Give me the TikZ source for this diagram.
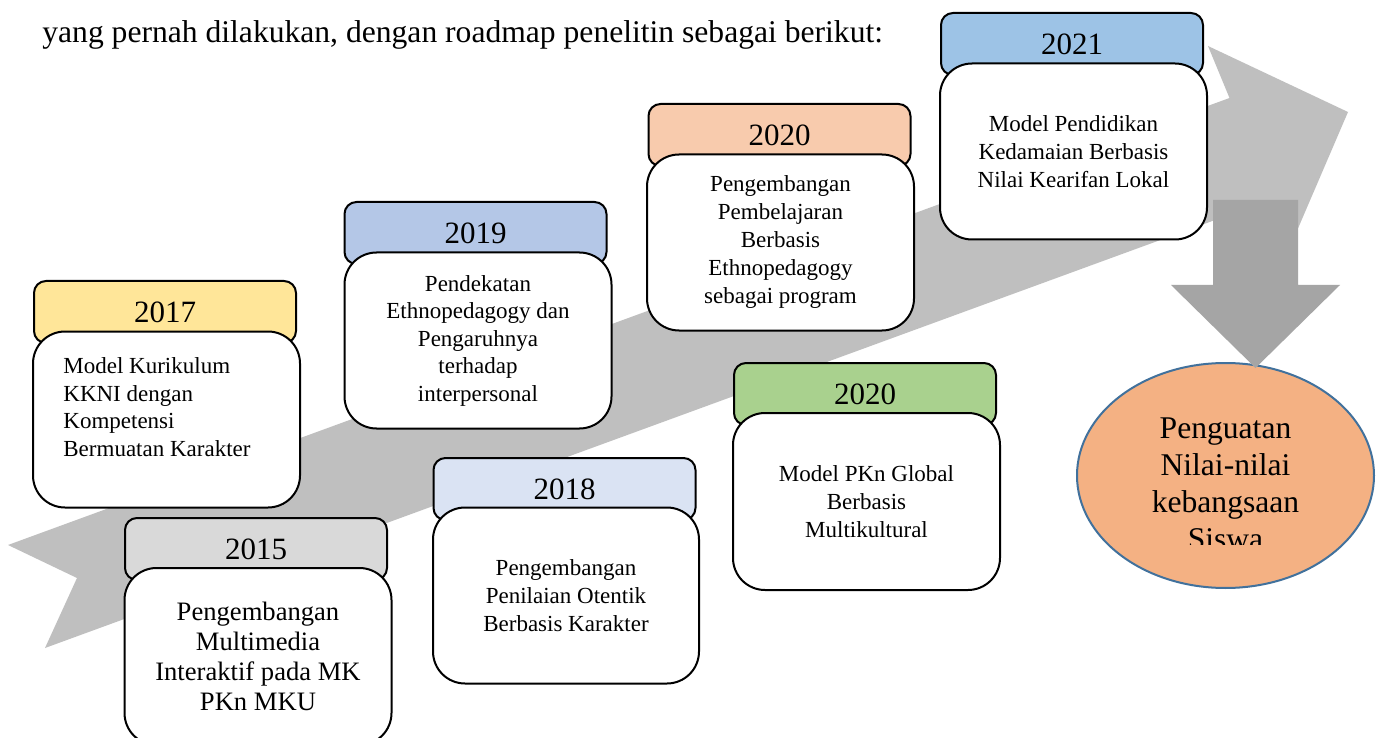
\documentclass[tikz,border=0pt]{standalone}
\usepackage{fontspec}
\setmainfont{Liberation Serif}
\usetikzlibrary{shapes.geometric}
\definecolor{arrowlight}{HTML}{BFBFBF}
\definecolor{arrowdark}{HTML}{A5A5A5}
\definecolor{cYa}{HTML}{9DC3E6}
\definecolor{cYb}{HTML}{F8CBAD}
\definecolor{cYc}{HTML}{B4C7E7}
\definecolor{cYd}{HTML}{FFE699}
\definecolor{cYe}{HTML}{D9D9D9}
\definecolor{cYf}{HTML}{DAE3F3}
\definecolor{cYg}{HTML}{A9D18E}
\definecolor{goalfill}{HTML}{F4B183}
\definecolor{goalline}{HTML}{41719C}
\begin{document}
\begin{tikzpicture}[x=0.5pt,y=-0.5pt,
  hdr/.style={draw=black, line width=1pt, rounded corners=6pt, minimum width=131pt,
    minimum height=31pt, inner sep=0pt, font=\fontsize{15.5}{18}\selectfont},
  bodybox/.style={draw=black, fill=white, line width=1pt, rounded corners=16pt,
    minimum width=133.5pt, minimum height=88pt, inner sep=0pt, align=center,
    font=\fontsize{11.5}{14}\selectfont},
  goalstyle/.style={ellipse, draw=goalline, line width=1pt, fill=goalfill,
    minimum width=148.5pt, minimum height=112.5pt, inner sep=0pt}]
\useasboundingbox (0,0) rectangle (1378,738);
\fill[white] (0,0) rectangle (1378,738);

% intro text
\node[anchor=base west, inner sep=0pt, font=\fontsize{15.8}{19}\selectfont] (intro) at (42,43)
  {yang pernah dilakukan, dengan roadmap penelitin sebagai berikut:};

% big light grey arrow
\fill[arrowlight] (8,545) -- (1229.5,98) -- (1208,46) -- (1348,112) -- (1287,254)
  -- (1267,201) -- (45,648) -- (77,578) -- cycle;

\begin{scope}
\clip (0,0) rectangle (1378,738);
% 2021
\node[hdr, fill=cYa] (h2021) at (1072,44) {2021};
\node[bodybox] (b2021) at (1073.5,151.5) {Model Pendidikan\\Kedamaian Berbasis\\Nilai Kearifan Lokal};
% 2020 orange
\node[hdr, fill=cYb] (h2020a) at (779.5,135) {2020};
\node[bodybox] (b2020a) at (780.5,242.5) {Pengembangan\\Pembelajaran\\Berbasis\\Ethnopedagogy\\sebagai program};
% 2019
\node[hdr, fill=cYc] (h2019) at (475.5,233) {2019};
\node[bodybox, font=\fontsize{11.5}{13.75}\selectfont] (b2019) at (478,340.5) {Pendekatan\\Ethnopedagogy dan\\Pengaruhnya\\terhadap\\interpersonal};
% 2017
\node[hdr, fill=cYd] (h2017) at (165,312) {2017};
\node[bodybox] (b2017) at (166.5,419.5) {};
\node[anchor=west, inner sep=0pt, align=left, font=\fontsize{11.5}{13.85}\selectfont] (t2017) at (63,407)
  {Model Kurikulum\\KKNI dengan\\Kompetensi\\Bermuatan Karakter};
% 2015
\node[hdr, fill=cYe] (h2015) at (256,549) {2015};
\node[bodybox, minimum height=88.5pt, font=\fontsize{13.3}{15}\selectfont] (b2015) at (258,656.5)
  {Pengembangan\\Multimedia\\Interaktif pada MK\\PKn MKU};
% 2018
\node[hdr, fill=cYf] (h2018) at (564.5,489) {2018};
\node[bodybox, minimum width=133pt] (b2018) at (566,595.5) {Pengembangan\\Penilaian Otentik\\Berbasis Karakter};
% 2020 green
\node[hdr, fill=cYg] (h2020b) at (865,394) {2020};
\node[bodybox, minimum height=88.5pt] (b2020b) at (866.5,501.5) {Model PKn Global\\Berbasis\\Multikultural};
\end{scope}

% goal ellipse
\node[goalstyle] (goal) at (1225.5,475.5) {};
\begin{scope}
\clip (1070,360) rectangle (1380,544);
\node[align=center, inner sep=0pt, font=\fontsize{15.8}{18.4}\selectfont] (goaltext) at (1225.5,484)
  {Penguatan\\Nilai-nilai\\kebangsaan\\Siswa};
\end{scope}

% dark down arrow
\fill[arrowdark] (1213,200) -- (1298,200) -- (1298,285) -- (1340,285) -- (1255.5,368)
  -- (1171,285) -- (1213,285) -- cycle;
\end{tikzpicture}
\end{document}
